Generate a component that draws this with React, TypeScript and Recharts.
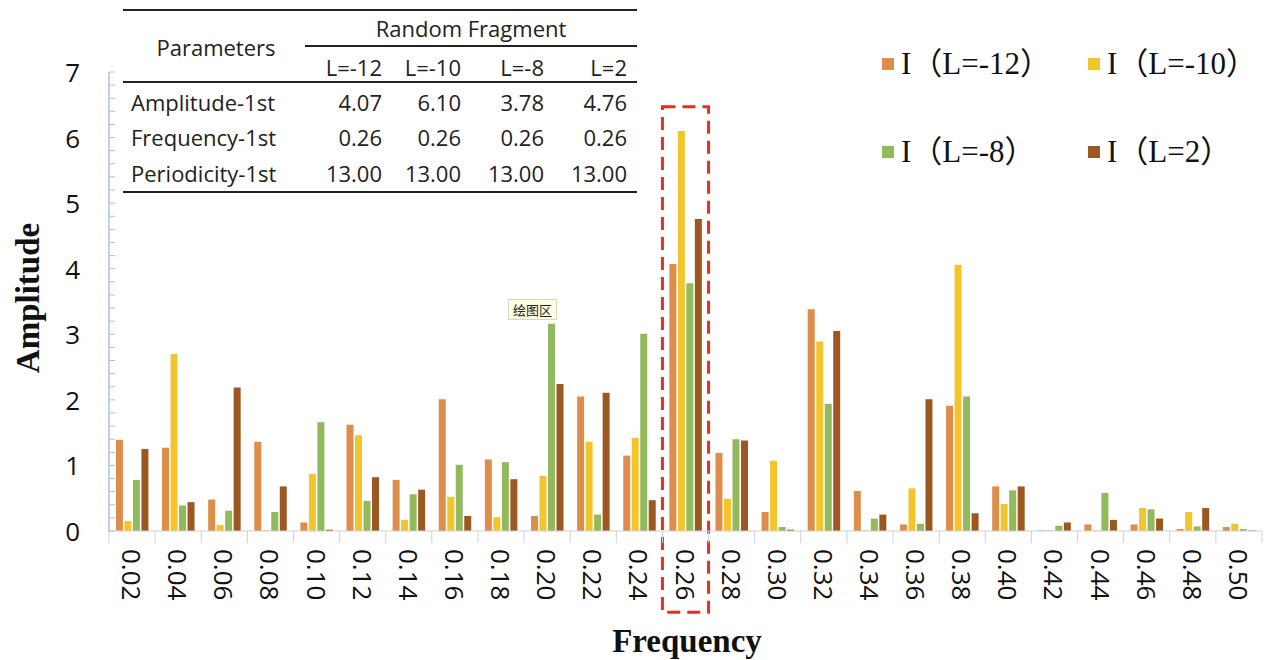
import React from 'react';
import { BarChart, Bar, XAxis, YAxis, ReferenceArea, Legend } from 'recharts';

const categories = ['0.02','0.04','0.06','0.08','0.10','0.12','0.14','0.16','0.18','0.20','0.22','0.24','0.26','0.28','0.30','0.32','0.34','0.36','0.38','0.40','0.42','0.44','0.46','0.48','0.50'];
const seriesL12 = [1.39,1.27,0.48,1.36,0.13,1.62,0.78,2.01,1.09,0.23,2.05,1.15,4.07,1.19,0.29,3.38,0.61,0.10,1.91,0.68,0.01,0.10,0.10,0.03,0.06];
const seriesL10 = [0.15,2.70,0.09,0.01,0.87,1.46,0.17,0.52,0.21,0.84,1.36,1.42,6.10,0.49,1.07,2.89,0.01,0.65,4.06,0.41,0.01,0.01,0.35,0.29,0.11];
const seriesL8 = [0.78,0.39,0.31,0.29,1.66,0.46,0.56,1.01,1.05,3.16,0.25,3.01,3.78,1.40,0.06,1.94,0.19,0.11,2.05,0.62,0.08,0.58,0.33,0.07,0.03];
const seriesL2 = [1.25,0.44,2.19,0.68,0.02,0.82,0.63,0.23,0.79,2.24,2.11,0.47,4.76,1.38,0.02,3.05,0.25,2.01,0.27,0.68,0.13,0.17,0.19,0.35,0.01];

const seriesNames = ['I（L=-12）', 'I（L=-10）', 'I（L=-8）', 'I（L=2）'];
const seriesColors = ['#DE8D4B', '#F1C52B', '#93B95D', '#9C5820'];

const yTicks = Array.from({ length: 36 }, (_, i) => Math.round(i * 2) / 10);

const tableCols = ['L=-12', 'L=-10', 'L=-8', 'L=2'];
const tableRows = [
  { name: 'Amplitude-1st', values: ['4.07', '6.10', '3.78', '4.76'] },
  { name: 'Frequency-1st', values: ['0.26', '0.26', '0.26', '0.26'] },
  { name: 'Periodicity-1st', values: ['13.00', '13.00', '13.00', '13.00'] },
];

const highlightCategory = '0.26';

const data = categories.map((c, i) => ({
  f: c,
  a: seriesL12[i],
  b: seriesL10[i],
  c: seriesL8[i],
  d: seriesL2[i],
}));

const SANS = "'Open Sans', 'Noto Sans', sans-serif";
const SERIF = "'Liberation Serif', 'Noto Sans CJK SC', serif";

const YTick = (props: any) => {
  const { x, y, payload } = props;
  const v = payload.value;
  const isMajor = Math.abs(v - Math.round(v)) < 1e-6;
  return (
    <g>
      <line x1={x} x2={x + 6} y1={y} y2={y} stroke="#A9C4E0" strokeWidth={1} />
      {isMajor && (
        <text x={x - 29} y={y} textAnchor="end" dominantBaseline="central" fontFamily={SANS} fontSize={26} fill="#111">
          {Math.round(v)}
        </text>
      )}
    </g>
  );
};

const XTick = (props: any) => {
  const { x, y, payload, index } = props;
  const off = payload.offset || 0;
  return (
    <g>
      <line x1={x - off} x2={x - off} y1={y} y2={y + 12} stroke="#D0D0D0" strokeWidth={1} />
      {index === categories.length - 1 && (
        <line x1={x + off} x2={x + off} y1={y} y2={y + 12} stroke="#D0D0D0" strokeWidth={1} />
      )}
      <text
        transform={`translate(${x}, ${y + 18}) rotate(90)`}
        textAnchor="start"
        dominantBaseline="central"
        fontFamily={SANS}
        fontSize={26}
        fill="#111"
      >
        {payload.value}
      </text>
    </g>
  );
};

const LegendContent = (props: any) => {
  const { payload } = props;
  const items = [...(payload || [])].sort((p: any, q: any) => String(p.dataKey).localeCompare(String(q.dataKey)));
  return (
    <div style={{ display: 'grid', gridTemplateColumns: '206px 206px', rowGap: 56 }}>
      {items.map((p: any, i: number) => (
        <div key={i} style={{ display: 'flex', alignItems: 'center', height: 32 }}>
          <span style={{ display: 'inline-block', width: 12, height: 12, background: p.color, marginRight: 7 }} />
          <span style={{ fontFamily: SERIF, fontSize: 31, color: '#111', whiteSpace: 'nowrap', lineHeight: '32px' }}>{p.value}</span>
        </div>
      ))}
    </div>
  );
};

const hLine = (left: number, top: number, width: number, thick: number) => (
  <div style={{ position: 'absolute', left, top, width, height: thick, background: '#222' }} />
);

const cellText = (text: string, style: React.CSSProperties) => (
  <div style={{ position: 'absolute', fontFamily: SANS, fontSize: 22, color: '#222', whiteSpace: 'nowrap', lineHeight: '26px', ...style }}>
    {text}
  </div>
);

const colRight = [382, 461, 544, 627];
const rowY = [89, 124, 160];

export default function App() {
  return (
    <div style={{ position: 'absolute', left: 0, top: 0, width: 1275, height: 660, background: '#fff', overflow: 'hidden' }}>
      <BarChart
        width={1275}
        height={660}
        data={data}
        margin={{ top: 72, right: 13, left: 49, bottom: 49 }}
        barCategoryGap="15%"
        barGap={1.5}
      >
        <XAxis
          dataKey="f"
          height={80}
          interval={0}
          tickSize={0}
          tickMargin={0}
          tickLine={false}
          axisLine={{ stroke: '#D0D0D0', strokeWidth: 1 }}
          tick={<XTick />}
        />
        <YAxis
          width={60}
          domain={[0, 7]}
          ticks={yTicks}
          interval={0}
          tickSize={0}
          tickMargin={0}
          tickLine={false}
          axisLine={{ stroke: '#A9C4E0', strokeWidth: 1.5 }}
          tick={<YTick />}
          allowDecimals
        />
        <Bar dataKey="a" name={seriesNames[0]} fill={seriesColors[0]} isAnimationActive={false} />
        <Bar dataKey="b" name={seriesNames[1]} fill={seriesColors[1]} isAnimationActive={false} />
        <Bar dataKey="c" name={seriesNames[2]} fill={seriesColors[2]} isAnimationActive={false} />
        <Bar dataKey="d" name={seriesNames[3]} fill={seriesColors[3]} isAnimationActive={false} />
        <ReferenceArea
          x1={highlightCategory}
          x2={highlightCategory}
          y1={-1.24}
          y2={6.47}
          ifOverflow="visible"
          fill="none"
          fillOpacity={0}
          stroke="#E3311D"
          strokeWidth={3}
          strokeDasharray="13 7"
        />
        <Legend
          layout="vertical"
          align="center"
          verticalAlign="middle"
          itemSorter="dataKey"
          content={<LegendContent />}
          wrapperStyle={{ position: 'absolute', top: 48, left: 882, width: 420, height: 130 }}
        />
        <text
          transform="translate(28, 298) rotate(-90)"
          textAnchor="middle"
          dominantBaseline="central"
          fontFamily={SERIF}
          fontWeight="bold"
          fontSize={33}
          fill="#111"
        >
          Amplitude
        </text>
        <text x={687} y={641} textAnchor="middle" dominantBaseline="central" fontFamily={SERIF} fontWeight="bold" fontSize={33} fill="#111">
          Frequency
        </text>
      </BarChart>

      {/* parameter table */}
      {hLine(123, 9, 514, 2)}
      {hLine(305, 45, 332, 1.5)}
      {hLine(123, 81, 514, 2)}
      {hLine(123, 191, 514, 2)}
      {cellText('Random Fragment', { left: 305, width: 332, textAlign: 'center', top: 15 })}
      {cellText('Parameters', { left: 123, width: 186, textAlign: 'center', top: 34 })}
      {tableCols.map((c, i) => cellText(c, { left: colRight[i] - 80, width: 80, textAlign: 'right', top: 54 }))}
      {tableRows.map((r, ri) => (
        <React.Fragment key={ri}>
          {cellText(r.name, { left: 131, top: rowY[ri] })}
          {r.values.map((v, ci) => cellText(v, { left: colRight[ci] - 80, width: 80, textAlign: 'right', top: rowY[ri] }))}
        </React.Fragment>
      ))}

      {/* tooltip artifact */}
      <div
        style={{
          position: 'absolute',
          left: 508,
          top: 299,
          padding: '1px 4px',
          background: '#FFFFE3',
          border: '1px solid #D8D8C0',
          fontFamily: "'Noto Sans CJK SC', sans-serif",
          fontSize: 13,
          lineHeight: '17px',
          color: '#222',
        }}
      >
        绘图区
      </div>
    </div>
  );
}
